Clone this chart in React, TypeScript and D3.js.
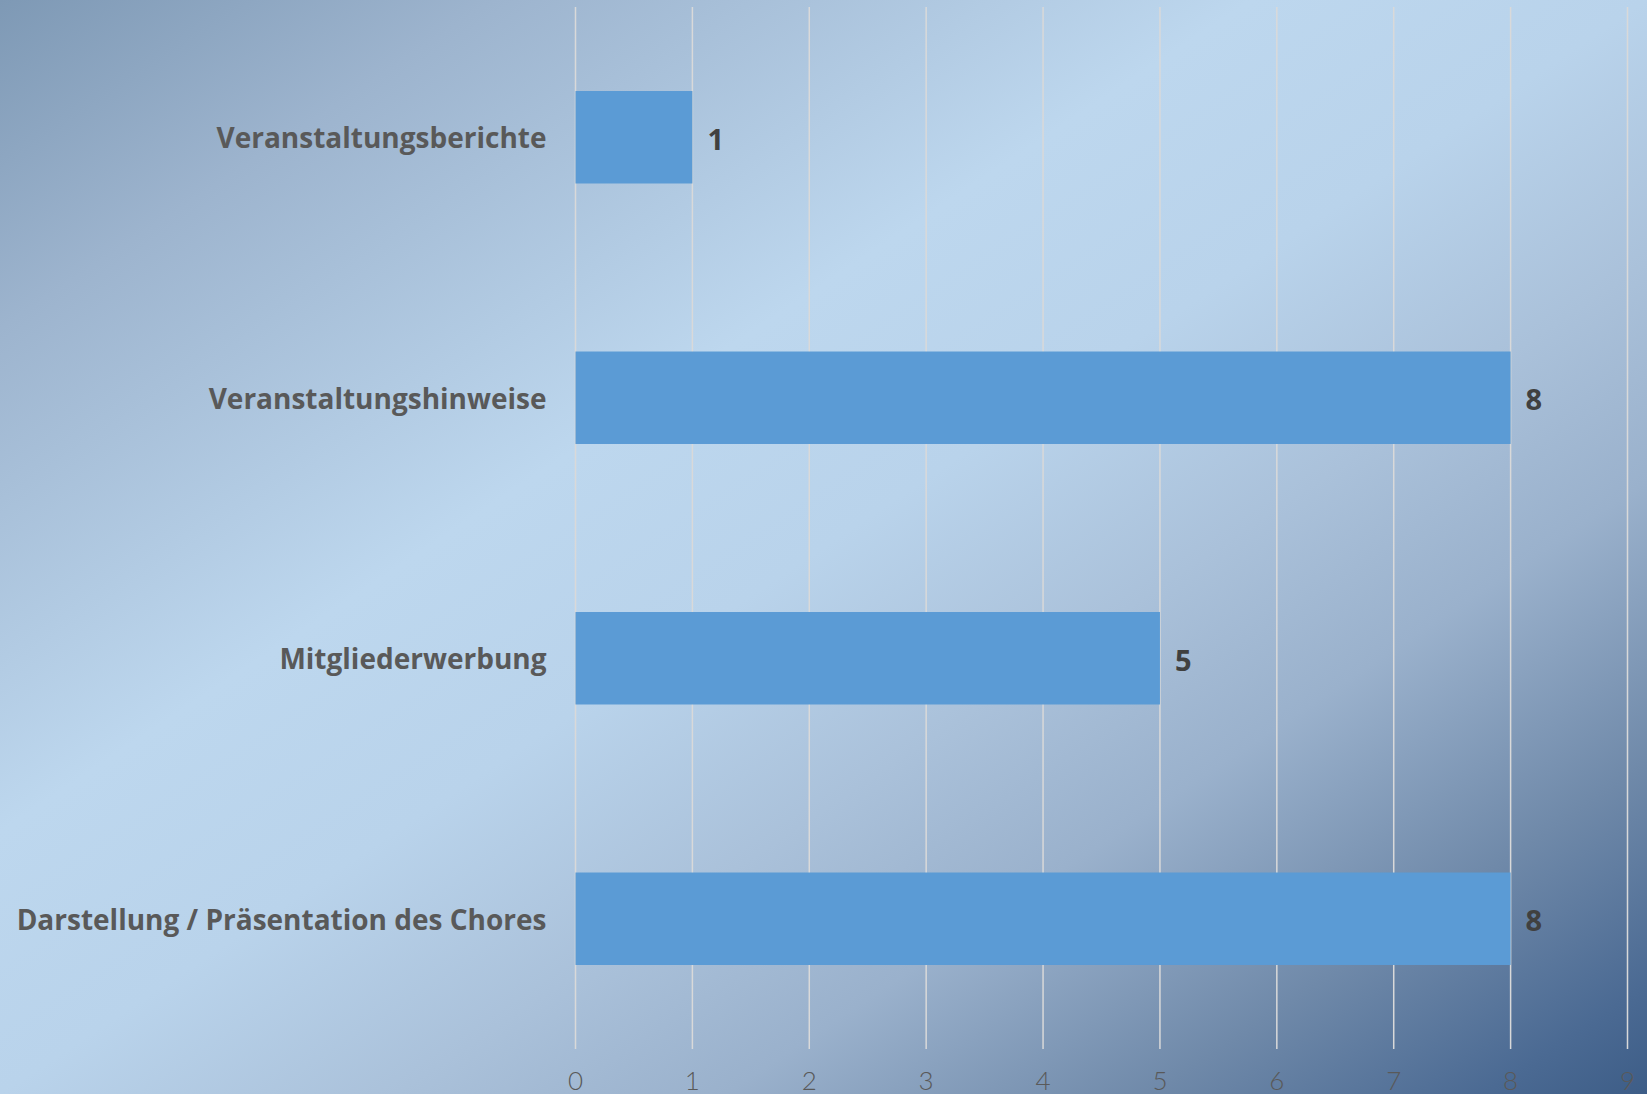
import React, { useRef, useEffect } from 'react';
import * as d3 from 'd3';

// chart data
const categories = [
    'Veranstaltungsberichte',
    'Veranstaltungshinweise',
    'Mitgliederwerbung',
    'Darstellung / Präsentation des Chores',
];
const counts = [1, 8, 5, 8];
const tickValues = [0, 1, 2, 3, 4, 5, 6, 7, 8, 9];

const App = () => {
    const svgRef = useRef(null);

    useEffect(() => {
        const width = 1647;
        const height = 1094;
        const margin = { top: 7, right: 19.5, bottom: 45, left: 575.5 };

        const svg = d3.select(svgRef.current)
            .attr('width', width)
            .attr('height', height);

        svg.selectAll('*').remove();

        // background gradient (top-left to bottom-right)
        const grad = svg.append('defs')
            .append('linearGradient')
            .attr('id', 'bg')
            .attr('x1', 0).attr('y1', 0)
            .attr('x2', 1).attr('y2', 1);
        const stops = [
            [0, '#7e99b5'],
            [0.15, '#9db4ce'],
            [0.38, '#bdd7ee'],
            [0.5, '#b9d3eb'],
            [0.62, '#aac1da'],
            [0.72, '#9ab1cc'],
            [0.85, '#6f89a9'],
            [0.95, '#4b6a93'],
            [1, '#3d5d87'],
        ];
        grad.selectAll('stop')
            .data(stops)
            .enter()
            .append('stop')
            .attr('offset', (d) => d[0])
            .attr('stop-color', (d) => d[1]);

        svg.append('rect')
            .attr('width', width)
            .attr('height', height)
            .attr('fill', 'url(#bg)');

        // scales
        const xScale = d3.scaleLinear()
            .domain([0, 9])
            .range([margin.left, width - margin.right]);

        const yScale = d3.scaleBand()
            .domain(categories)
            .range([margin.top, height - margin.bottom])
            .paddingInner(0.645)
            .paddingOuter(0.3225);

        // vertical gridlines
        svg.append('g')
            .selectAll('line')
            .data(tickValues)
            .enter()
            .append('line')
            .attr('x1', (d) => xScale(d))
            .attr('x2', (d) => xScale(d))
            .attr('y1', margin.top)
            .attr('y2', height - margin.bottom)
            .attr('stroke', '#d9d9d9')
            .attr('stroke-width', 1.5);

        // x tick labels
        svg.append('g')
            .selectAll('text')
            .data(tickValues)
            .enter()
            .append('text')
            .attr('x', (d) => xScale(d))
            .attr('y', 1080)
            .attr('text-anchor', 'middle')
            .attr('dominant-baseline', 'central')
            .style('font-family', 'Lato, "Open Sans", sans-serif')
            .style('font-weight', 300)
            .style('font-size', '26px')
            .attr('fill', '#595959')
            .text((d) => d);

        // bars
        svg.append('g')
            .selectAll('rect')
            .data(counts)
            .enter()
            .append('rect')
            .attr('x', xScale(0))
            .attr('y', (d, i) => yScale(categories[i]))
            .attr('width', (d) => xScale(d) - xScale(0))
            .attr('height', yScale.bandwidth())
            .attr('fill', '#5b9bd5');

        // value labels
        svg.append('g')
            .selectAll('text')
            .data(counts)
            .enter()
            .append('text')
            .attr('x', (d) => xScale(d) + 15)
            .attr('y', (d, i) => yScale(categories[i]) + yScale.bandwidth() / 2 + 1)
            .attr('dominant-baseline', 'central')
            .style('font-family', '"Open Sans", Lato, sans-serif')
            .style('font-weight', 700)
            .style('font-size', '29px')
            .attr('fill', '#404040')
            .text((d) => d);

        // category labels
        svg.append('g')
            .selectAll('text')
            .data(categories)
            .enter()
            .append('text')
            .attr('x', margin.left - 29)
            .attr('y', (d) => yScale(d) + yScale.bandwidth() / 2)
            .attr('text-anchor', 'end')
            .attr('dominant-baseline', 'central')
            .style('font-family', '"Open Sans", Lato, sans-serif')
            .style('font-weight', 700)
            .style('font-size', '28px')
            .attr('fill', '#595959')
            .text((d) => d);
    }, []);

    return (
        <svg
            ref={svgRef}
            style={{ position: 'absolute', left: 0, top: 0, display: 'block' }}
        ></svg>
    );
};

export default App;
